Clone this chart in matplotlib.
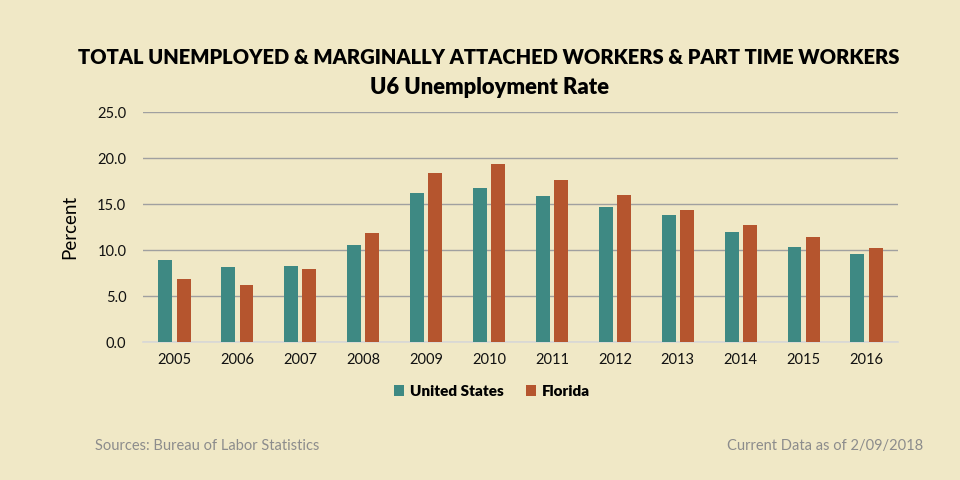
import matplotlib
matplotlib.use('Agg')
import matplotlib.pyplot as plt
import numpy as np

# data
years = ['2005', '2006', '2007', '2008', '2009', '2010',
         '2011', '2012', '2013', '2014', '2015', '2016']
us_rate = [8.9, 8.2, 8.3, 10.5, 16.2, 16.7, 15.9, 14.7, 13.8, 12.0, 10.3, 9.6]
fl_rate = [6.9, 6.2, 7.9, 11.9, 18.4, 19.3, 17.6, 16.0, 14.3, 12.7, 11.4, 10.2]
y_ticks = [0, 5, 10, 15, 20, 25]

BG = '#F0E8C6'
TEAL = '#3E8983'
RUST = '#B5552E'

plt.rcParams['font.family'] = ['Lato', 'DejaVu Sans']

fig = plt.figure(figsize=(9.6, 4.8), dpi=100, facecolor=BG)
ax = fig.add_axes([143 / 960, 1 - 342 / 480, (898 - 143) / 960, (342 - 112) / 480])
ax.set_facecolor(BG)

x = np.arange(len(years))
w = 0.22
ax.bar(x - 0.145, us_rate, width=w, color=TEAL, label='United States', zorder=3)
ax.bar(x + 0.145, fl_rate, width=w, color=RUST, label='Florida', zorder=3)

ax.set_xlim(-0.5, len(years) - 0.5)
ax.set_ylim(0, 25)
ax.set_yticks(y_ticks)
ax.set_yticklabels([f'{v:.1f}' for v in y_ticks], fontsize=10.5, color='#111111')
ax.set_xticks(x)
ax.set_xticklabels(years, fontsize=10.5, color='#111111')
ax.tick_params(axis='both', length=0)
ax.tick_params(axis='x', pad=8)
ax.tick_params(axis='y', pad=12)

ax.grid(axis='y', color='#A0A0A0', linewidth=1, zorder=0)
for s in ['top', 'right', 'left']:
    ax.spines[s].set_visible(False)
ax.spines['bottom'].set_color('#D8D8D8')
ax.spines['bottom'].set_linewidth(1.2)

ax.set_ylabel('Percent', fontsize=13.5, color='black', labelpad=14)

fig.text(489 / 960, 1 - 57 / 480, 'TOTAL UNEMPLOYED & MARGINALLY ATTACHED WORKERS & PART TIME WORKERS',
         ha='center', va='center', fontsize=14.5, fontweight='heavy')
fig.text(489 / 960, 1 - 87 / 480, 'U6 Unemployment Rate',
         ha='center', va='center', fontsize=15.8, fontweight='heavy')

fig.legend(loc='center', bbox_to_anchor=(492 / 960, 1 - 391 / 480), ncol=2,
           frameon=False, handlelength=0.7, handleheight=0.7,
           handletextpad=0.4, columnspacing=1.4, prop={'weight': 'heavy', 'size': 11})

fig.text(95 / 960, 1 - 446 / 480, 'Sources: Bureau of Labor Statistics',
         ha='left', va='center', fontsize=10.5, color='#8C8C8C')
fig.text(923 / 960, 1 - 446 / 480, 'Current Data as of 2/09/2018',
         ha='right', va='center', fontsize=10.5, color='#8C8C8C')

fig.savefig('out.png', dpi=100, facecolor=BG)
